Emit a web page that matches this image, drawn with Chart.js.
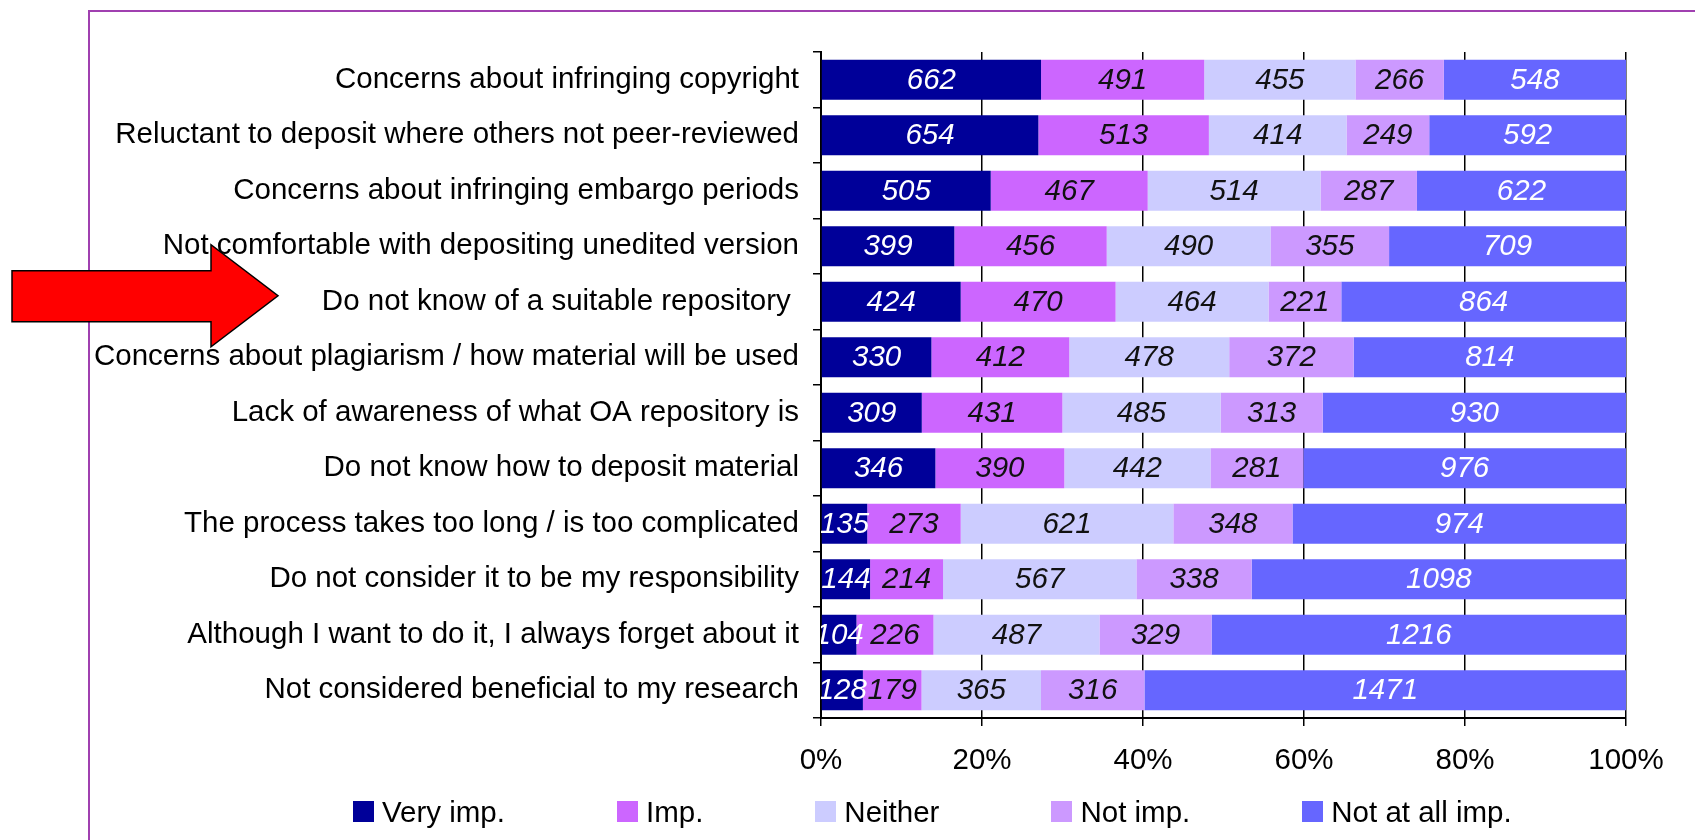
<!DOCTYPE html>
<html>
<head>
<meta charset="utf-8">
<title>Reasons for not depositing</title>
<script src="https://cdn.jsdelivr.net/npm/chart.js@4.4.1/dist/chart.umd.min.js"></script>
<style>
  body { margin: 0; background: #fff; overflow: hidden; font-family: "Liberation Sans", Arial, sans-serif; }
  #wrap { position: relative; width: 1695px; height: 840px; overflow: hidden; }
  #frame { position: absolute; left: 88px; top: 10px; width: 1700px; height: 900px; border: 2px solid #a040b0; box-sizing: border-box; }
  #chart-box { position: absolute; left: 0; top: 0; width: 1695px; height: 840px; }
  #legend { position: absolute; left: 353px; top: 801px; height: 21px; display: flex; align-items: center; gap: 112px; font-size: 29.5px; color: #000; }
  .legend-item { display: flex; align-items: center; white-space: nowrap; }
  .legend-box { width: 21px; height: 21px; margin-right: 8px; }
</style>
</head>
<body>
<div id="wrap">
  <div id="frame"></div>
  <div id="chart-box"><canvas id="reasonsChart"></canvas></div>
  <div id="legend"></div>
</div>
<script>
const categories = [
  "Concerns about infringing copyright",
  "Reluctant to deposit where others not peer-reviewed",
  "Concerns about infringing embargo periods",
  "Not comfortable with depositing unedited version",
  "Do not know of a suitable repository ",
  "Concerns about plagiarism / how material will be used",
  "Lack of awareness of what OA repository is",
  "Do not know how to deposit material",
  "The process takes too long / is too complicated",
  "Do not consider it to be my responsibility",
  "Although I want to do it, I always forget about it",
  "Not considered beneficial to my research",
];

const veryImp = [662, 654, 505, 399, 424, 330, 309, 346, 135, 144, 104, 128];
const imp = [491, 513, 467, 456, 470, 412, 431, 390, 273, 214, 226, 179];
const neither = [455, 414, 514, 490, 464, 478, 485, 442, 621, 567, 487, 365];
const notImp = [266, 249, 287, 355, 221, 372, 313, 281, 348, 338, 329, 316];
const notAtAllImp = [548, 592, 622, 709, 864, 814, 930, 976, 974, 1098, 1216, 1471];

const seriesNames = ["Very imp.", "Imp.", "Neither", "Not imp.", "Not at all imp."];
const seriesColors = ["#000099", "#CC66FF", "#CCCCFF", "#CC99FF", "#6666FF"];
const valueColors = ["#ffffff", "#111111", "#111111", "#111111", "#ffffff"];

const highlighted = "Do not know of a suitable repository ";

document.addEventListener("DOMContentLoaded", () => {
  Chart.defaults.font.family = '"Liberation Sans", Arial, sans-serif';
  Chart.defaults.font.size = 29.5;
  Chart.defaults.color = "#000";

  const series = [veryImp, imp, neither, notImp, notAtAllImp];
  const totals = categories.map((_, i) =>
    series.reduce((acc, values) => acc + values[i], 0)
  );

  // 100% stacked: bar lengths are shares, labels show the counts
  const datasets = series.map((values, k) => ({
    label: seriesNames[k],
    data: values.map((v, i) => (v / totals[i]) * 100),
    counts: values,
    valueColor: valueColors[k],
    backgroundColor: seriesColors[k],
    borderWidth: 0,
    barPercentage: 0.72,
    categoryPercentage: 1,
  }));

  // counts written in the middle of each segment
  const valueLabels = {
    id: "valueLabels",
    afterDatasetsDraw(chart) {
      const { ctx, chartArea } = chart;
      ctx.save();
      ctx.beginPath();
      ctx.rect(chartArea.left, chartArea.top, chartArea.width, chartArea.height);
      ctx.clip();
      ctx.font = 'italic 29.5px "Liberation Sans", Arial, sans-serif';
      ctx.textAlign = "center";
      ctx.textBaseline = "middle";
      chart.data.datasets.forEach((ds, k) => {
        chart.getDatasetMeta(k).data.forEach((bar, i) => {
          const { x, y, base } = bar.getProps(["x", "y", "base"], true);
          ctx.fillStyle = ds.valueColor;
          ctx.fillText(String(ds.counts[i]), (x + base) / 2, y + 1);
        });
      });
      ctx.restore();
    },
  };

  // red block arrow pointing at the highlighted category
  const arrowMark = {
    id: "arrowMark",
    afterDraw(chart) {
      const { ctx, scales } = chart;
      const cy = scales.y.getPixelForValue(categories.indexOf(highlighted)) - 6;
      ctx.save();
      ctx.beginPath();
      ctx.moveTo(12, cy - 25);
      ctx.lineTo(211, cy - 25);
      ctx.lineTo(211, cy - 51);
      ctx.lineTo(278, cy);
      ctx.lineTo(211, cy + 51);
      ctx.lineTo(211, cy + 26);
      ctx.lineTo(12, cy + 26);
      ctx.closePath();
      ctx.fillStyle = "#ff0000";
      ctx.fill();
      ctx.lineWidth = 1.5;
      ctx.strokeStyle = "#000";
      ctx.stroke();
      ctx.restore();
    },
  };

  const reasonsChart = new Chart(document.getElementById("reasonsChart"), {
    type: "bar",
    data: { labels: categories, datasets },
    options: {
      indexAxis: "y",
      responsive: true,
      maintainAspectRatio: false,
      animation: false,
      layout: { padding: { left: 0, right: 69, top: 52, bottom: 62 } },
      plugins: {
        legend: { display: false },
        tooltip: { enabled: false },
      },
      scales: {
        x: {
          stacked: true,
          min: 0,
          max: 100,
          ticks: {
            stepSize: 20,
            padding: 17,
            callback: (value) => value + "%",
          },
          grid: { color: "#000", lineWidth: 1.5, tickLength: 8 },
          border: { color: "#000", width: 2 },
          afterFit: (scale) => {
            scale.height = 60;
          },
        },
        y: {
          stacked: true,
          ticks: { padding: 14, autoSkip: false },
          grid: {
            drawOnChartArea: false,
            offset: true,
            color: "#000",
            lineWidth: 1.5,
            tickLength: 8,
          },
          border: { color: "#000", width: 2 },
          afterFit: (scale) => {
            scale.width = 821;
          },
        },
      },
    },
    plugins: [valueLabels, arrowMark],
  });

  // legend built from the chart's own datasets
  const legend = document.getElementById("legend");
  reasonsChart.data.datasets.forEach((ds) => {
    const item = document.createElement("div");
    item.className = "legend-item";
    item.innerHTML = `<span class="legend-box" style="background:${ds.backgroundColor}"></span><span>${ds.label}</span>`;
    legend.appendChild(item);
  });
});
</script>
</body>
</html>
